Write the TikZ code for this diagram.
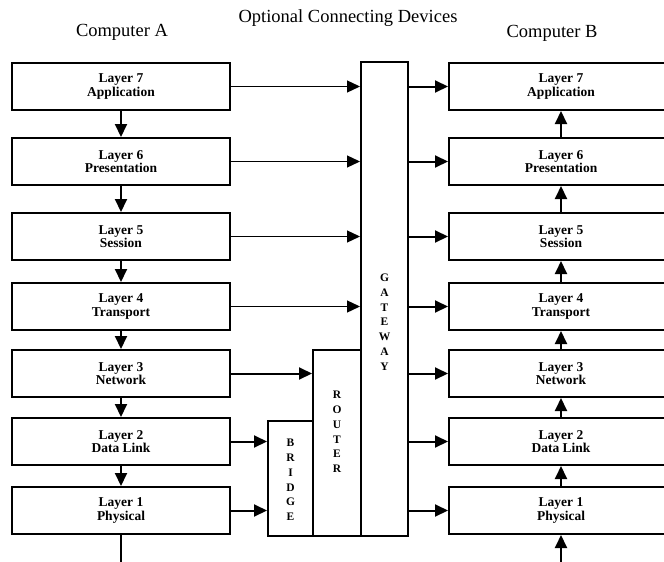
\documentclass[tikz,border=0pt]{standalone}
\usepackage{fontspec}
\setmainfont{Liberation Serif}
\usepackage{tikz}
\usetikzlibrary{arrows.meta}

\begin{document}
\begin{tikzpicture}[
        x=1pt, y=-1pt,
        >={Triangle[length=13pt,width=12pt]},
        layerbox/.style={draw, line width=2pt, inner sep=0pt,
                         align=center, font=\fontsize{13.5}{13.5}\selectfont\bfseries},
        devbox/.style={draw, line width=2pt, inner sep=0pt},
        devletters/.style={align=center, inner sep=0pt,
                           font=\fontsize{11.5}{14.8}\selectfont\bfseries},
        title/.style={font=\fontsize{18.5}{20}\selectfont},
        arr/.style={->, line width=2pt},
        thinarr/.style={->, line width=1.3pt},
    ]
    \useasboundingbox (0,0) rectangle (664,562);
    \clip (0,0) rectangle (664,562);

    % headings
    \node[title] (ttlA) at (122,32) {Computer A};
    \node[title] (ttlopt) at (348,18) {Optional Connecting Devices};
    \node[title] (ttlB) at (552,33) {Computer B};

    % the two stacks of layers
    \foreach \n/\name/\y in {7/Application/86.5, 6/Presentation/161.5,
                             5/Session/236.5, 4/Transport/306.5,
                             3/Network/373.5, 2/Data Link/441.5,
                             1/Physical/510.5} {
        \node[layerbox, minimum width=218pt, minimum height=47pt]
            (L\n) at (121,\y) {Layer \n\\\name};
        \node[layerbox, minimum width=224pt, minimum height=47pt]
            (R\n) at (561,\y) {Layer \n\\\name};
    }

    % connecting devices
    \node[devbox, minimum width=47pt, minimum height=474pt] (gw) at (384.5,299) {};
    \node[devbox, minimum width=48pt, minimum height=186pt] (rt) at (337,443) {};
    \node[devbox, minimum width=45pt, minimum height=115pt] (br) at (290.5,478.5) {};
    \node[devletters] (gwtext) at (384.5,322) {G\\A\\T\\E\\W\\A\\Y};
    \node[devletters] (rttext) at (337,432) {R\\O\\U\\T\\E\\R};
    \node[devletters] (brtext) at (290.5,480) {B\\R\\I\\D\\G\\E};

    % down through computer A, up through computer B
    \foreach \a/\b in {7/6, 6/5, 5/4, 4/3, 3/2, 2/1} {
        \draw[arr] (L\a.south) -- (L\b.north);
        \draw[arr] (R\b.north) -- (R\a.south);
    }
    \coordinate (lend) at (121,562);
    \coordinate (rend) at (561,562);
    \draw[line width=2pt] (L1.south) -- (lend);
    \draw[arr] (rend) -- (R1.south);

    % into the devices
    \foreach \n in {7, 6, 5, 4}
        \draw[thinarr] (L\n.east) -- (L\n.east -| gw.west);
    \draw[arr] (L3.east) -- (L3.east -| rt.west);
    \draw[arr] (L2.east) -- (L2.east -| br.west);
    \draw[arr] (L1.east) -- (L1.east -| br.west);

    % out of the gateway
    \foreach \n in {7, 6, 5, 4, 3, 2, 1}
        \draw[arr] (R\n.west -| gw.east) -- (R\n.west);

\end{tikzpicture}
\end{document}
